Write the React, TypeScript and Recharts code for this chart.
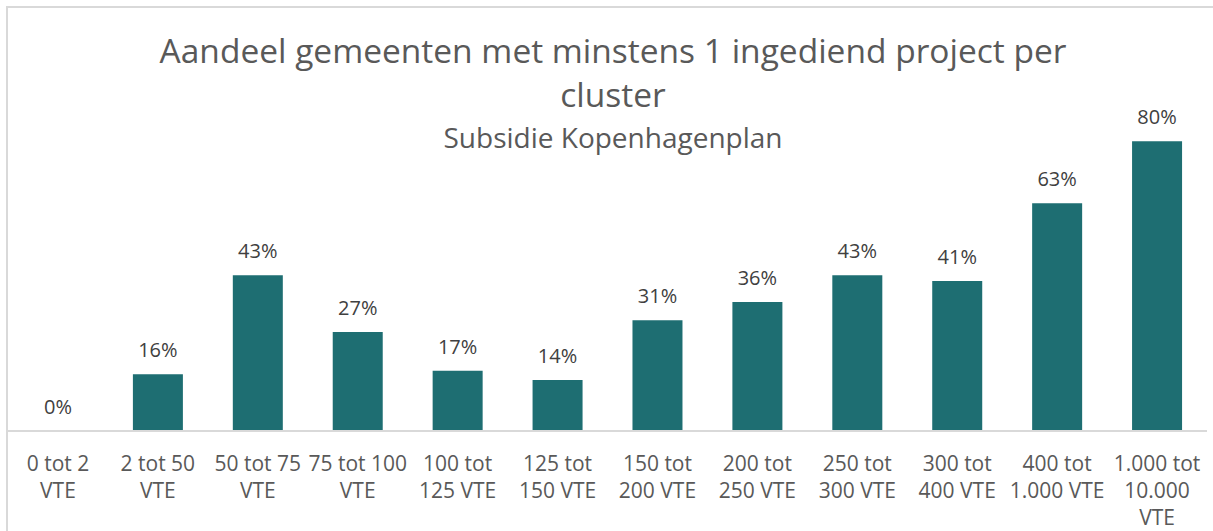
import React from 'react';
import { BarChart, Bar, XAxis, YAxis, LabelList } from 'recharts';

const categories = [
  '0 tot 2\nVTE',
  '2 tot 50\nVTE',
  '50 tot 75\nVTE',
  '75 tot 100\nVTE',
  '100 tot\n125 VTE',
  '125 tot\n150 VTE',
  '150 tot\n200 VTE',
  '200 tot\n250 VTE',
  '250 tot\n300 VTE',
  '300 tot\n400 VTE',
  '400 tot\n1.000 VTE',
  '1.000 tot\n10.000\nVTE',
];

const shares = [0, 0.157, 0.43, 0.273, 0.166, 0.141, 0.306, 0.356, 0.43, 0.414, 0.629, 0.8];

const data = categories.map((name, i) => ({ name, value: shares[i] }));

const FONT = '"Open Sans", "Noto Sans", sans-serif';

const CategoryTick = (props: any) => {
  const { x, y, payload } = props;
  const lines: string[] = String(payload.value).split('\n');
  return (
    <text x={x} y={y} textAnchor="middle" fill="#595959" fontSize={21} fontFamily={FONT}>
      {lines.map((line, i) => (
        <tspan key={i} x={x} dy={i === 0 ? 40 : 27}>
          {line}
        </tspan>
      ))}
    </text>
  );
};

const App: React.FC = () => {
  return (
    <div style={{ position: 'absolute', left: 0, top: 0, width: 1213, height: 531, overflow: 'hidden', background: '#fff' }}>
      <div
        style={{
          position: 'absolute',
          left: 6,
          top: 6,
          width: 1230,
          height: 560,
          border: '2px solid #d9d9d9',
          boxSizing: 'border-box',
        }}
      />
      <div style={{ position: 'absolute', left: 0, top: 28, width: 1226, textAlign: 'center', fontFamily: FONT, color: '#595959', fontSize: 33.5, lineHeight: '44px' }}>
        Aandeel gemeenten met minstens 1 ingediend project per
        <br />
        cluster
      </div>
      <div style={{ position: 'absolute', left: 0, top: 118, width: 1226, textAlign: 'center', fontFamily: FONT, color: '#595959', fontSize: 28, lineHeight: '38px' }}>
        Subsidie Kopenhagenplan
      </div>
      <div style={{ position: 'absolute', left: 0, top: 0 }}>
        <BarChart
          width={1213}
          height={531}
          data={data}
          margin={{ top: 105, right: 6, left: 8, bottom: 10 }}
          barCategoryGap="25%"
        >
          <XAxis
            dataKey="name"
            interval={0}
            height={90}
            tickSize={0}
            tickMargin={0}
            tickLine={false}
            axisLine={{ stroke: '#d9d9d9', strokeWidth: 2 }}
            tick={<CategoryTick />}
          />
          <YAxis hide domain={[0, 0.9]} />
          <Bar dataKey="value" fill="#1e6e72" minPointSize={0.01} isAnimationActive={false}>
            <LabelList
              dataKey="value"
              position="top"
              offset={17}
              fill="#404040"
              fontSize={20}
              fontFamily={FONT}
              formatter={(v: any) => `${Math.round(Number(v) * 100)}%`}
            />
          </Bar>
        </BarChart>
      </div>
    </div>
  );
};

export default App;
